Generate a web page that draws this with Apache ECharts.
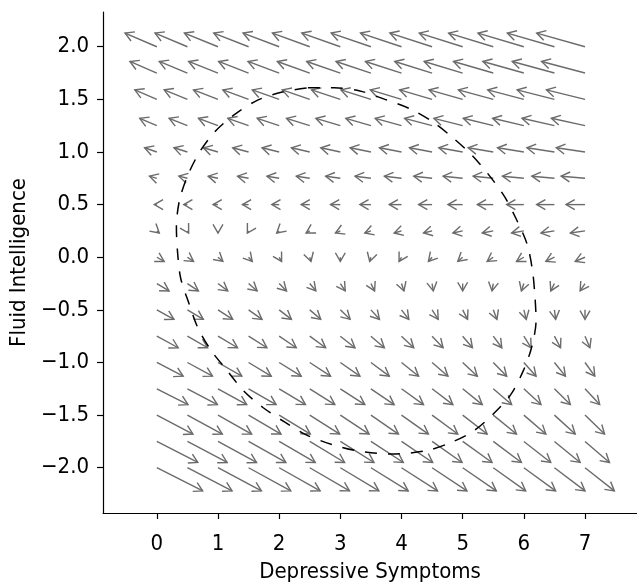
<!DOCTYPE html>
<html>
<head>
<meta charset="utf-8">
<script src="https://cdn.jsdelivr.net/npm/echarts@6/dist/echarts.min.js"></script>
<style>
  html, body { margin: 0; padding: 0; background: #fff; }
  #chart { width: 637px; height: 588px; }
</style>
</head>
<body>
<div id="chart"></div>
<script>
// grid points of the field (columns = depressive symptoms, rows = fluid intelligence)
const xGrid = [0, 0.5, 1, 1.5, 2, 2.5, 3, 3.5, 4, 4.5, 5, 5.5, 6, 6.5, 7];
const yGrid = [2, 1.75, 1.5, 1.25, 1, 0.75, 0.5, 0.25, 0, -0.25, -0.5, -0.75, -1, -1.25, -1.5, -1.75, -2];

// horizontal change of each arrow, one row per yGrid value
const uRows = [
    [-0.52, -0.53, -0.55, -0.57, -0.59, -0.61, -0.63, -0.65, -0.67, -0.69, -0.71, -0.73, -0.75, -0.77, -0.79],
    [-0.44, -0.46, -0.48, -0.49, -0.51, -0.53, -0.55, -0.57, -0.59, -0.61, -0.63, -0.65, -0.67, -0.69, -0.71],
    [-0.36, -0.38, -0.40, -0.42, -0.44, -0.45, -0.47, -0.49, -0.51, -0.53, -0.55, -0.57, -0.59, -0.61, -0.63],
    [-0.28, -0.30, -0.32, -0.34, -0.36, -0.38, -0.40, -0.41, -0.43, -0.45, -0.47, -0.49, -0.51, -0.53, -0.55],
    [-0.20, -0.22, -0.24, -0.26, -0.28, -0.30, -0.32, -0.34, -0.36, -0.37, -0.39, -0.41, -0.43, -0.45, -0.47],
    [-0.12, -0.14, -0.16, -0.18, -0.20, -0.22, -0.24, -0.26, -0.28, -0.30, -0.32, -0.33, -0.35, -0.37, -0.39],
    [-0.04, -0.06, -0.08, -0.10, -0.12, -0.14, -0.16, -0.18, -0.20, -0.22, -0.24, -0.26, -0.28, -0.29, -0.31],
    [0.04, 0.02, 0.00, -0.02, -0.04, -0.06, -0.08, -0.10, -0.12, -0.14, -0.16, -0.18, -0.20, -0.22, -0.24],
    [0.12, 0.10, 0.08, 0.06, 0.04, 0.02, 0.00, -0.02, -0.04, -0.06, -0.08, -0.10, -0.12, -0.14, -0.16],
    [0.20, 0.18, 0.16, 0.14, 0.12, 0.10, 0.08, 0.06, 0.04, 0.02, 0.00, -0.02, -0.04, -0.06, -0.08],
    [0.28, 0.26, 0.24, 0.22, 0.20, 0.18, 0.16, 0.14, 0.12, 0.10, 0.08, 0.06, 0.04, 0.02, 0.00],
    [0.35, 0.33, 0.32, 0.30, 0.28, 0.26, 0.24, 0.22, 0.20, 0.18, 0.16, 0.14, 0.12, 0.10, 0.08],
    [0.43, 0.41, 0.39, 0.37, 0.36, 0.34, 0.32, 0.30, 0.28, 0.26, 0.24, 0.22, 0.20, 0.18, 0.16],
    [0.51, 0.49, 0.47, 0.45, 0.43, 0.41, 0.40, 0.38, 0.36, 0.34, 0.32, 0.30, 0.28, 0.26, 0.24],
    [0.59, 0.57, 0.55, 0.53, 0.51, 0.49, 0.47, 0.45, 0.44, 0.42, 0.40, 0.38, 0.36, 0.34, 0.32],
    [0.67, 0.65, 0.63, 0.61, 0.59, 0.57, 0.55, 0.53, 0.51, 0.49, 0.48, 0.46, 0.44, 0.42, 0.40],
    [0.75, 0.73, 0.71, 0.69, 0.67, 0.65, 0.63, 0.61, 0.59, 0.57, 0.55, 0.53, 0.52, 0.50, 0.48]
];

// vertical change, the same along each row
const vRows = [0.13, 0.11, 0.09, 0.07, 0.04, 0.02, 0.00, -0.02, -0.04, -0.07, -0.09, -0.11, -0.13, -0.15, -0.18, -0.20, -0.22];

const curveX = [2.47, 2.90, 3.32, 3.73, 4.14, 4.50, 4.83, 5.15, 5.43, 5.68, 5.87, 6.05, 6.14, 6.18, 6.20, 6.13, 5.99, 5.78, 5.50, 5.18, 4.81, 4.39, 3.83, 3.28, 2.87, 2.45, 2.10, 1.74, 1.42, 1.14, 0.88, 0.67, 0.52, 0.39, 0.34, 0.32, 0.37, 0.50, 0.70, 0.96, 1.28, 1.64, 2.05, 2.47];
const curveY = [1.61, 1.61, 1.58, 1.50, 1.41, 1.29, 1.14, 0.97, 0.78, 0.58, 0.37, 0.13, -0.12, -0.36, -0.60, -0.85, -1.08, -1.31, -1.49, -1.65, -1.76, -1.84, -1.87, -1.84, -1.78, -1.69, -1.57, -1.43, -1.27, -1.07, -0.88, -0.67, -0.43, -0.20, 0.04, 0.29, 0.54, 0.77, 1.00, 1.20, 1.36, 1.49, 1.57, 1.61];

const xTicks = [0, 1, 2, 3, 4, 5, 6, 7];
const yTicks = [-2, -1.5, -1, -0.5, 0, 0.5, 1, 1.5, 2];

const arrowData = [];
yGrid.forEach((y, i) => {
    xGrid.forEach((x, j) => {
        arrowData.push([x, y, uRows[i][j], vRows[i]]);
    });
});

const fontFamily = "'DejaVu Sans Condensed', 'Liberation Sans', sans-serif";
const arrowColor = '#6b6b6b';

const renderArrow = (params, api) => {
    const x = api.value(0);
    const y = api.value(1);
    const p0 = api.coord([x, y]);
    const p1 = api.coord([x + api.value(2), y + api.value(3)]);
    const ang = Math.atan2(p1[1] - p0[1], p1[0] - p0[0]);
    const len = 10;
    const spread = 0.52;
    const h1 = [p1[0] - len * Math.cos(ang - spread), p1[1] - len * Math.sin(ang - spread)];
    const h2 = [p1[0] - len * Math.cos(ang + spread), p1[1] - len * Math.sin(ang + spread)];
    const style = { stroke: arrowColor, lineWidth: 1.4, fill: null };
    return {
        type: 'group',
        children: [
            { type: 'line', shape: { x1: p0[0], y1: p0[1], x2: p1[0], y2: p1[1] }, style: style },
            { type: 'polyline', shape: { points: [h1, p1, h2] }, style: style }
        ]
    };
};

const chartOptions = {
    animation: false,
    grid: {
        left: 103,
        right: 0,
        top: 12,
        bottom: 73
    },
    xAxis: {
        type: 'value',
        min: -0.88,
        max: 7.85,
        name: 'Depressive Symptoms',
        nameLocation: 'middle',
        nameGap: 48,
        nameTextStyle: { color: '#000', fontSize: 22, fontFamily: fontFamily },
        splitLine: { show: false },
        axisLine: { onZero: false, lineStyle: { color: '#000', width: 1.2 } },
        axisTick: { show: true, length: 6, customValues: xTicks, lineStyle: { color: '#000', width: 1.2 } },
        axisLabel: {
            customValues: xTicks,
            margin: 20,
            color: '#000',
            fontSize: 22,
            fontFamily: fontFamily
        }
    },
    yAxis: {
        type: 'value',
        min: -2.43,
        max: 2.33,
        name: 'Fluid Intelligence',
        nameLocation: 'middle',
        nameGap: 68,
        nameTextStyle: { color: '#000', fontSize: 22, fontFamily: fontFamily },
        splitLine: { show: false },
        axisLine: { show: true, onZero: false, lineStyle: { color: '#000', width: 1.2 } },
        axisTick: { show: true, length: 6, customValues: yTicks, lineStyle: { color: '#000', width: 1.2 } },
        axisLabel: {
            customValues: yTicks,
            margin: 14,
            color: '#000',
            fontSize: 22,
            fontFamily: fontFamily,
            formatter: v => v.toFixed(1).replace('-', '\u2212')
        }
    },
    series: [
        {
            type: 'custom',
            renderItem: renderArrow,
            data: arrowData,
            encode: { x: 0, y: 1 },
            clip: false,
            silent: true
        },
        {
            type: 'line',
            data: curveX.map((x, i) => [x, curveY[i]]),
            showSymbol: false,
            smooth: 0.3,
            silent: true,
            lineStyle: { color: '#000', width: 1.5, type: [12, 11] }
        }
    ]
};

const chart = echarts.init(document.getElementById('chart'), null, { renderer: 'canvas' });
chart.setOption(chartOptions);
</script>
</body>
</html>
